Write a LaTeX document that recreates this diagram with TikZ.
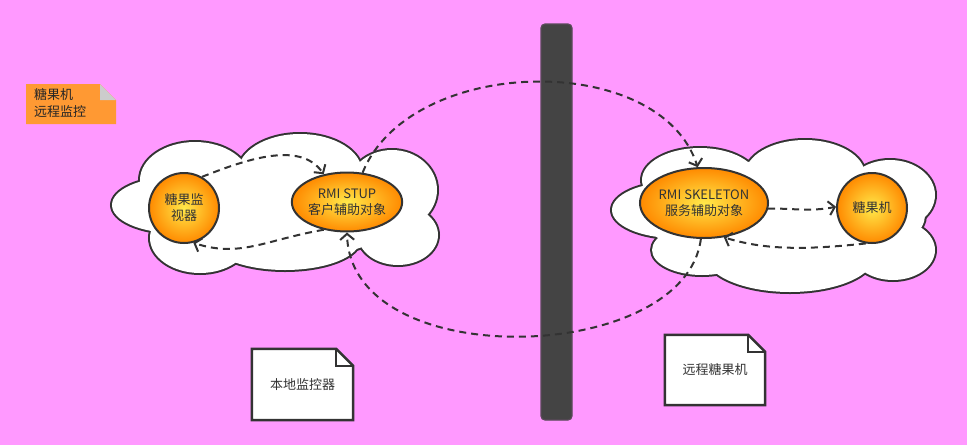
\documentclass[tikz,border=0pt]{standalone}
\usepackage{fontspec}
\newfontfamily\cjk{Noto Sans CJK SC}
\usetikzlibrary{shapes.geometric,arrows.meta}
\definecolor{bg}{HTML}{FF99FF}
\definecolor{ink}{HTML}{333333}
\definecolor{stick}{HTML}{FF9933}
\definecolor{fold}{HTML}{CCCCCC}
\definecolor{bar}{HTML}{444444}
\definecolor{barline}{HTML}{5A4A5A}
\definecolor{ballin}{HTML}{FFE94A}
\definecolor{ballout}{HTML}{FF8A00}
\tikzset{
  cloudline/.style={draw=ink, line width=4pt},
  cloudfill/.style={fill=white},
  ball/.style={circle, draw=ink, line width=2pt, inner color=ballin, outer color=ballout, font=\cjk\fontsize{13}{16}\selectfont, text=ink, align=center, inner sep=0pt},
  oval/.style={ellipse, draw=ink, line width=2pt, inner color=ballin, outer color=ballout, font=\cjk\fontsize{13}{16}\selectfont, text=ink, align=center, inner sep=0pt},
  flow/.style={draw=ink, line width=2pt, dash pattern=on 7pt off 5pt, -{Straight Barb[length=6pt,width=14pt,line width=2pt]}},
  doc/.style={font=\cjk\fontsize{13}{16}\selectfont, text=ink, inner sep=0pt},
}
\begin{document}
\begin{tikzpicture}[x=1pt,y=-1pt]
\fill[bg] (0,0) rectangle (967,445);
\useasboundingbox (0,0) rectangle (967,445);

% sticky note
\fill[stick] (26,84) -- (100,84) -- (116,100) -- (116,124) -- (26,124) -- cycle;
\fill[fold] (100,84) -- (116,100) -- (100,100) -- cycle;
\node[font=\cjk\fontsize{13}{17}\selectfont, text=black!85, align=left, anchor=north west, inner sep=0pt] (title) at (34,88) {糖果机\\远程监控};

% clouds (union of ellipses)
\def\leftcloud{275/210/130/50, 195/180/55/38, 300/172/62/38, 392/190/45/40, 398/235/40/30, 285/240/75/30, 200/238/50/35, 175/205/63/28}
\def\rightcloud{785/215/140/55, 700/180/58/32, 805/175/60/35, 890/195/45/35, 893/250/42/30, 790/255/85/37, 702/250/50/25, 675/210/63/28}
\foreach \cx/\cy/\rx/\ry in \leftcloud {\path[cloudline] (\cx,\cy) ellipse [x radius=\rx pt, y radius=\ry pt];}
\foreach \cx/\cy/\rx/\ry in \rightcloud {\path[cloudline] (\cx,\cy) ellipse [x radius=\rx pt, y radius=\ry pt];}
\foreach \cx/\cy/\rx/\ry in \leftcloud {\path[cloudfill] (\cx,\cy) ellipse [x radius=\rx pt, y radius=\ry pt];}
\foreach \cx/\cy/\rx/\ry in \rightcloud {\path[cloudfill] (\cx,\cy) ellipse [x radius=\rx pt, y radius=\ry pt];}

% bar
\draw[fill=bar, draw=barline, line width=1.2pt, rounded corners=4pt] (541,24) rectangle (572,420);

% nodes
\node[ball, minimum size=70pt] (mon) at (184,208) {糖果监\\视器};
\node[oval, minimum width=110pt, minimum height=59pt] (stup) at (347,202) {RMI STUP\\客户辅助对象};
\node[oval, minimum width=118pt, minimum height=70pt] (skel) at (704,203) {RMI SKELETON\\服务辅助对象};
\node[ball, minimum size=70pt] (gm) at (872,208) {糖果机};

% inner flows
\draw[flow] (mon.60) .. controls (245,160) and (300,140) .. (stup.130);
\draw[flow] (stup.230) .. controls (265,240) and (240,258) .. (mon.-75);
\draw[flow] (skel.-5) .. controls (790,208) and (810,212) .. (gm.178);
\draw[flow] (gm.-100) .. controls (805,250) and (765,250) .. (skel.-60);

% big loop
\draw[flow] (stup.62) .. controls (410,55) and (660,50) .. (skel.100);
\draw[flow] (skel.-95) .. controls (685,365) and (350,375) .. (stup.-90);

% documents
\node[doc, minimum width=101pt, minimum height=71pt] (n1) at (302.5,384.5) {};
\draw[ink, line width=2.5pt, fill=white] (n1.north west) -- ([xshift=-17pt]n1.north east) -- ([yshift=-17pt]n1.north east) -- (n1.south east) -- (n1.south west) -- cycle;
\draw[ink, line width=2.5pt] ([xshift=-17pt]n1.north east) -- ([xshift=-17pt,yshift=-17pt]n1.north east) -- ([yshift=-17pt]n1.north east);
\node[doc] (t1) at (n1) {本地监控器};

\node[doc, minimum width=100pt, minimum height=70pt] (n2) at (715,370) {};
\draw[ink, line width=2.5pt, fill=white] (n2.north west) -- ([xshift=-17pt]n2.north east) -- ([yshift=-17pt]n2.north east) -- (n2.south east) -- (n2.south west) -- cycle;
\draw[ink, line width=2.5pt] ([xshift=-17pt]n2.north east) -- ([xshift=-17pt,yshift=-17pt]n2.north east) -- ([yshift=-17pt]n2.north east);
\node[doc] (t2) at (n2) {远程糖果机};
\end{tikzpicture}
\end{document}
